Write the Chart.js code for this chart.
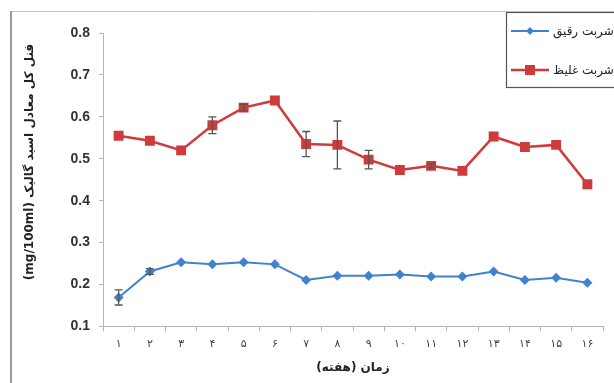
<!DOCTYPE html>
<html>
<head>
<meta charset="utf-8">
<script src="https://cdn.jsdelivr.net/npm/chart.js@4/dist/chart.umd.min.js"></script>
<style>
  html, body { margin: 0; padding: 0; background: #fff; }
  #wrap { position: relative; width: 614px; height: 383px; }
</style>
</head>
<body>
<div id="wrap"><canvas id="c" width="614" height="383" dir="rtl"></canvas></div>
<script>
// Weeks (Persian digits) on the horizontal axis
const weeks = ['۱','۲','۳','۴','۵','۶','۷','۸','۹','۱۰','۱۱','۱۲','۱۳','۱۴','۱۵','۱۶'];

// Total phenol, gallic acid equivalent (mg/100ml)
const thinSyrup  = [0.169, 0.231, 0.253, 0.248, 0.253, 0.248, 0.211, 0.221, 0.221, 0.224, 0.219, 0.219, 0.231, 0.211, 0.216, 0.204];
const thickSyrup = [0.555, 0.543, 0.520, 0.580, 0.622, 0.639, 0.535, 0.533, 0.498, 0.473, 0.483, 0.471, 0.553, 0.528, 0.533, 0.439];

// Standard deviations (error bars)
const thinErr  = [0.018, 0.007, 0, 0, 0, 0, 0, 0, 0, 0, 0, 0, 0, 0, 0, 0];
const thickErr = [0, 0, 0, 0.020, 0.008, 0, 0.030, 0.057, 0.022, 0, 0.005, 0, 0, 0, 0, 0];

const seriesNames = ['شربت رقیق', 'شربت غلیظ'];
const yTitle = 'فنل کل معادل اسید گالیک (mg/100ml)';
const xTitle = 'زمان (هفته)';

const BLUE = '#4182cf';
const RED = '#cf3b3b';

// Light frame around the whole chart
const framePlugin = {
  id: 'frame',
  beforeDraw(chart) {
    const ctx = chart.ctx;
    ctx.save();
    ctx.strokeStyle = '#c8c8c8';
    ctx.lineWidth = 1;
    ctx.beginPath();
    ctx.moveTo(11, 11.5);
    ctx.lineTo(614, 11.5);
    ctx.stroke();
    ctx.strokeStyle = '#9a9a9a';
    ctx.lineWidth = 2;
    ctx.beginPath();
    ctx.moveTo(11, 11);
    ctx.lineTo(11, 383);
    ctx.stroke();
    ctx.restore();
  }
};

// Rotated value-axis title, set a little above the axis middle
const yTitlePlugin = {
  id: 'yTitle',
  afterDraw(chart) {
    const ctx = chart.ctx;
    ctx.save();
    ctx.translate(30, 162);
    ctx.rotate(-Math.PI / 2);
    ctx.fillStyle = '#222';
    ctx.font = 'bold 12px "DejaVu Sans", sans-serif';
    ctx.textAlign = 'center';
    ctx.textBaseline = 'middle';
    ctx.fillText(yTitle, 0, 0);
    ctx.restore();
  }
};

// Vertical error bars with caps, placed through the chart scales
const errorBarPlugin = {
  id: 'errorBars',
  afterDatasetsDraw(chart) {
    const ctx = chart.ctx;
    const xs = chart.scales.x, ys = chart.scales.y;
    ctx.save();
    ctx.strokeStyle = '#555';
    ctx.lineWidth = 1.3;
    chart.data.datasets.forEach((ds) => {
      const errs = ds.errors || [];
      ds.data.forEach((v, i) => {
        const e = errs[i];
        if (!e) return;
        const x = xs.getPixelForValue(i);
        const y1 = ys.getPixelForValue(v + e);
        const y2 = ys.getPixelForValue(v - e);
        ctx.beginPath();
        ctx.moveTo(x, y1); ctx.lineTo(x, y2);
        ctx.moveTo(x - 4, y1); ctx.lineTo(x + 4, y1);
        ctx.moveTo(x - 4, y2); ctx.lineTo(x + 4, y2);
        ctx.stroke();
      });
    });
    ctx.restore();
  }
};

// Boxed legend in the upper right corner
const boxLegendPlugin = {
  id: 'boxLegend',
  afterDraw(chart) {
    const ctx = chart.ctx;
    ctx.save();
    ctx.fillStyle = '#fff';
    ctx.fillRect(506, 12, 120, 76);
    ctx.strokeStyle = '#555';
    ctx.lineWidth = 1.2;
    ctx.strokeRect(506.5, 12.5, 120, 75);
    const rows = [31, 70];
    chart.data.datasets.forEach((ds, i) => {
      const y = rows[i];
      ctx.strokeStyle = ds.borderColor;
      ctx.lineWidth = ds.borderWidth;
      ctx.beginPath();
      ctx.moveTo(511, y); ctx.lineTo(549, y);
      ctx.stroke();
      ctx.fillStyle = ds.pointBackgroundColor;
      if (ds.pointStyle === 'rectRot') {
        const r = 4;
        ctx.beginPath();
        ctx.moveTo(530, y - r); ctx.lineTo(530 + r, y); ctx.lineTo(530, y + r); ctx.lineTo(530 - r, y);
        ctx.closePath(); ctx.fill();
      } else {
        ctx.fillRect(525, y - 5, 10, 10);
      }
      ctx.fillStyle = '#222';
      ctx.font = '12px "DejaVu Sans", sans-serif';
      ctx.textAlign = 'left';
      ctx.textBaseline = 'middle';
      ctx.fillText(ds.label, 553, y + 1);
    });
    ctx.restore();
  }
};

new Chart(document.getElementById('c'), {
  type: 'line',
  data: {
    labels: weeks,
    datasets: [
      {
        label: seriesNames[0],
        data: thinSyrup,
        errors: thinErr,
        borderColor: BLUE,
        backgroundColor: BLUE,
        pointBackgroundColor: BLUE,
        pointBorderColor: BLUE,
        pointStyle: 'rectRot',
        pointRadius: 5,
        pointBorderWidth: 0,
        borderWidth: 2,
        tension: 0
      },
      {
        label: seriesNames[1],
        data: thickSyrup,
        errors: thickErr,
        borderColor: RED,
        backgroundColor: RED,
        pointBackgroundColor: RED,
        pointBorderColor: RED,
        pointStyle: 'rect',
        pointRadius: 7,
        pointBorderWidth: 0,
        borderWidth: 2.5,
        tension: 0
      }
    ]
  },
  options: {
    responsive: false,
    animation: false,
    layout: { padding: { left: 18, top: 33, right: 11, bottom: 8 } },
    plugins: { legend: { display: false }, tooltip: { enabled: false } },
    scales: {
      x: {
        offset: true,
        border: { color: '#b5b5b5', width: 1 },
        grid: { offset: true, drawOnChartArea: false, drawTicks: true, tickLength: 5, color: '#b5b5b5' },
        ticks: { color: '#444', font: { family: '"DejaVu Sans", sans-serif', size: 11 }, padding: 6, maxRotation: 0 },
        title: { display: true, text: xTitle, color: '#222', font: { family: '"DejaVu Sans", sans-serif', size: 12, weight: 'bold' }, padding: { top: 4, bottom: 0 } }
      },
      y: {
        min: 0.1,
        max: 0.8,
        afterFit(scale) { scale.width = 85; },
        border: { color: '#b5b5b5', width: 1 },
        grid: { drawOnChartArea: false, drawTicks: true, tickLength: 4, color: '#b5b5b5' },
        ticks: {
          stepSize: 0.1,
          color: '#333',
          padding: 9,
          font: { family: '"Liberation Sans", Arial, sans-serif', size: 14, weight: 'bold' },
          callback: (v) => Number(v).toFixed(1)
        }
      }
    }
  },
  plugins: [framePlugin, errorBarPlugin, boxLegendPlugin, yTitlePlugin]
});
</script>
</body>
</html>
